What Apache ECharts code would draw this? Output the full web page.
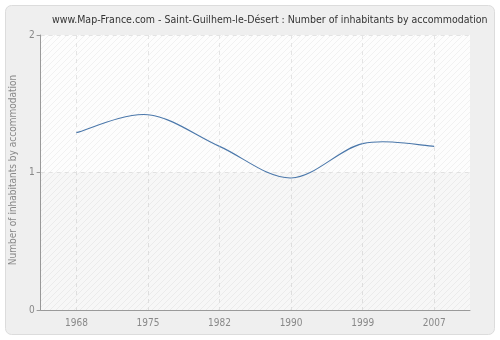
<!DOCTYPE html>
<html><head><meta charset="utf-8">
<script src="https://cdn.jsdelivr.net/npm/echarts@6/dist/echarts.min.js"></script>
<style>html,body{margin:0;padding:0;background:#fff}#c{width:500px;height:340px}</style>
</head><body><div id="c"></div>
<script>
const titleText = "www.Map-France.com - Saint-Guilhem-le-Désert : Number of inhabitants by accommodation";
const yAxisName = "Number of inhabitants by accommodation";
const years = ["1968", "1975", "1982", "1990", "1999", "2007"];
const values = [1.29, 1.42, 1.19, 0.96, 1.21, 1.19];
const yTicks = [0, 1, 2];

function hatch(bg, line) {
  const c = document.createElement('canvas');
  c.width = 6; c.height = 6;
  const g = c.getContext('2d');
  g.fillStyle = bg; g.fillRect(0, 0, 6, 6);
  g.strokeStyle = line; g.lineWidth = 1;
  g.beginPath();
  g.moveTo(0, 6); g.lineTo(6, 0);
  g.moveTo(-1, 1); g.lineTo(1, -1);
  g.moveTo(5, 7); g.lineTo(7, 5);
  g.stroke();
  return c;
}

// Catmull-Rom spline segments, points taken from the axes via api.coord
function renderItem(params, api) {
  const i = params.dataIndex;
  const n = values.length;
  if (i >= n - 1) return null;
  const P = k => { const j = Math.max(0, Math.min(n - 1, k)); return api.coord([j, values[j]]); };
  const p0 = P(i - 1), p1 = P(i), p2 = P(i + 1), p3 = P(i + 2);
  return {
    type: 'bezierCurve',
    shape: {
      x1: p1[0], y1: p1[1], x2: p2[0], y2: p2[1],
      cpx1: p1[0] + (p2[0] - p0[0]) / 6, cpy1: p1[1] + (p2[1] - p0[1]) / 6,
      cpx2: p2[0] - (p3[0] - p1[0]) / 6, cpy2: p2[1] - (p3[1] - p1[1]) / 6
    },
    style: {stroke: '#4a77aa', fill: null, lineWidth: 1.1}
  };
}

const chart = echarts.init(document.getElementById('c'), null, {renderer: 'canvas'});
const font = 'DejaVu Sans Condensed';
chart.setOption({
  animation: false,
  backgroundColor: '#ffffff',
  graphic: [{
    type: 'rect', z: -10, silent: true,
    shape: {x: 5.5, y: 5.5, width: 489, height: 329, r: 6},
    style: {fill: '#efefef', stroke: '#dcdcdc', lineWidth: 1}
  }],
  title: {
    text: titleText, left: 47, top: 10,
    textStyle: {fontFamily: font, fontSize: 10.5, fontWeight: 'normal', color: '#333'}
  },
  grid: {
    left: 40, right: 30, top: 35, bottom: 30, show: true,
    backgroundColor: {image: hatch('#fdfdfd', '#f1f1f1'), repeat: 'repeat'},
    borderWidth: 0
  },
  xAxis: {
    type: 'category', data: years, boundaryGap: true,
    axisLine: {lineStyle: {color: '#9a9a9a'}},
    axisTick: {alignWithLabel: true, length: 4, lineStyle: {color: '#9a9a9a'}},
    axisLabel: {fontFamily: font, fontSize: 10, color: '#888', margin: 8},
    splitLine: {show: true, alignWithLabel: true, lineStyle: {color: '#e4e4e4', type: [4, 4]}}
  },
  yAxis: {
    type: 'value', min: yTicks[0], max: yTicks[yTicks.length - 1], interval: 1,
    name: yAxisName, nameLocation: 'middle', nameGap: 22,
    nameTextStyle: {fontFamily: font, fontSize: 10, color: '#888', padding: [0, 0, 0, 5]},
    axisLine: {show: true, lineStyle: {color: '#9a9a9a'}},
    axisTick: {show: true, length: 4, lineStyle: {color: '#9a9a9a'}},
    axisLabel: {fontFamily: font, fontSize: 10, color: '#888', margin: 6},
    splitLine: {show: true, lineStyle: {color: '#e4e4e4', type: [4, 4]}}
  },
  series: [{
    type: 'custom', renderItem: renderItem,
    data: values.map((v, i) => [i, v]),
    encode: {x: 0, y: 1},
    markArea: {
      silent: true,
      itemStyle: {color: 'rgba(0,0,0,0.025)'},
      data: [[{yAxis: 0}, {yAxis: 1}]]
    }
  }]
});
</script></body></html>
